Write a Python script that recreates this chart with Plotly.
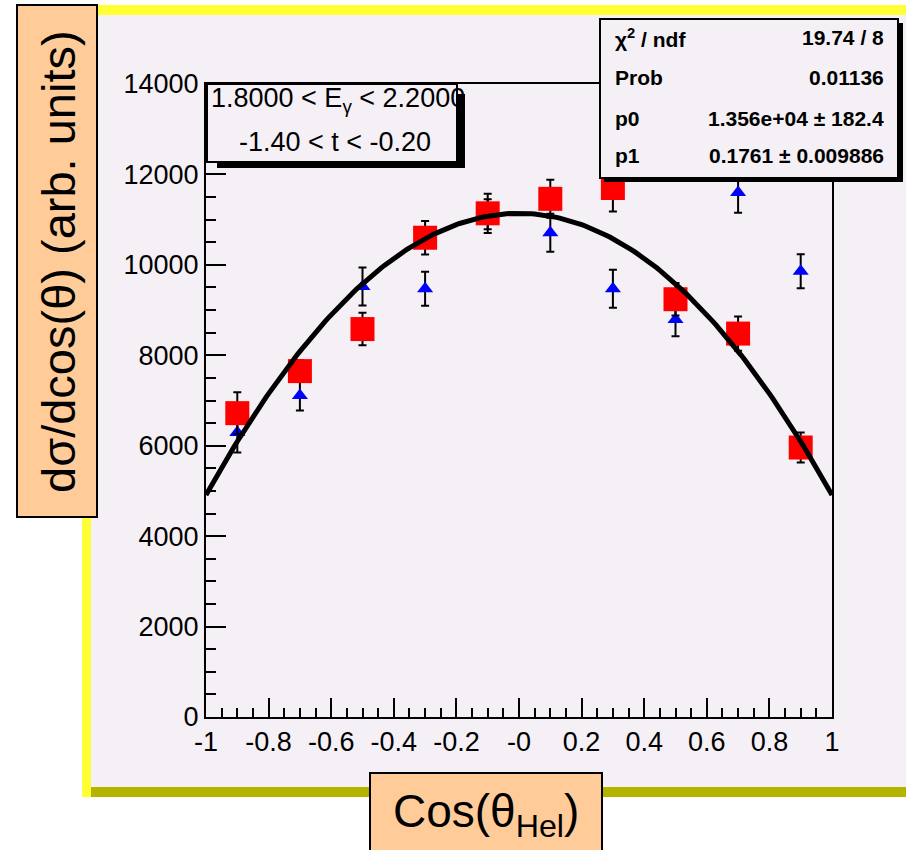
import numpy as np
import plotly.graph_objects as go

# --- data -------------------------------------------------------------
cos_bins = [-0.9, -0.7, -0.5, -0.3, -0.1, 0.1, 0.3, 0.5, 0.7, 0.9]

red_vals = [6720, 7650, 8580, 10600, 11140, 11460, 11700, 9240, 8480, 5960]
red_errs = [460, 240, 360, 370, 435, 420, 520, 360, 380, 330]

blue_vals = [6290, 7110, 9520, 9470, 11120, 10710, 9470, 8790, 11600, 9860]
blue_errs = [440, 330, 420, 375, 330, 420, 420, 370, 450, 375]

# fitted curve, polynomial coefficients (highest power first)
fit_coeffs = [-6230, 0, 11140]

x_tickvals = [-1, -0.8, -0.6, -0.4, -0.2, 0, 0.2, 0.4, 0.6, 0.8, 1]
x_ticktext = ["-1", "-0.8", "-0.6", "-0.4", "-0.2", "-0", "0.2", "0.4", "0.6", "0.8", "1"]
y_tickvals = [0, 2000, 4000, 6000, 8000, 10000, 12000, 14000]
y_ticktext = ["0", "2000", "4000", "6000", "8000", "10000", "12000", "14000"]

stats_rows = [
    ("χ<sup>2</sup> / ndf", "19.74 / 8"),
    ("Prob", "0.01136"),
    ("p0", "1.356e+04 ± 182.4"),
    ("p1", "0.1761 ± 0.009886"),
]
range_lines = ["1.8000 &lt; E<sub>γ</sub> &lt; 2.2000", "-1.40 &lt; t &lt; -0.20"]

# --- geometry (figure pixels) ------------------------------------------
W, H = 906, 850
L, R, T, B = 206, 74, 84, 133
PW, PH = W - L - R, H - T - B

PANEL = "#f4f0f5"
PEACH = "#ffcc99"
FONT = "Liberation Sans, Arial, sans-serif"


def px(xp):
    return (xp - L) / PW


def py(yp):
    return (H - B - yp) / PH


def rect(x0, y0, x1, y1, fill, line_color=None, lw=0, layer="above"):
    return dict(type="rect", xref="paper", yref="paper",
                x0=px(x0), x1=px(x1), y0=py(y1), y1=py(y0),
                fillcolor=fill, layer=layer,
                line=dict(color=line_color or fill, width=lw))


fig = go.Figure()

fig.add_trace(go.Scatter(
    x=cos_bins, y=blue_vals, mode="markers",
    marker=dict(symbol="triangle-up", size=14, color="#0000ff"),
    error_y=dict(type="data", array=blue_errs, color="black", thickness=2, width=4),
    showlegend=False, cliponaxis=False))

fig.add_trace(go.Scatter(
    x=cos_bins, y=red_vals, mode="markers",
    marker=dict(symbol="square", size=24, color="#ff0000"),
    error_y=dict(type="data", array=red_errs, color="black", thickness=2, width=4),
    showlegend=False, cliponaxis=False))

xf = np.linspace(-1, 1, 201)
fig.add_trace(go.Scatter(
    x=xf, y=np.polyval(fit_coeffs, xf), mode="lines",
    line=dict(color="black", width=5), showlegend=False))

shapes = [
    # canvas panel with bevelled border
    rect(91, 15, 906, 787, PANEL, layer="below"),
    rect(82, 5, 906, 15, "#ffff33", layer="below"),
    rect(82, 5, 91, 797, "#ffff33", layer="below"),
    rect(91, 787, 906, 797, "#b4b400", layer="below"),
    # range box with shadow
    rect(217, 94, 465, 168, "black"),
    rect(207, 84, 457, 162, PANEL, "black", 2),
    # fit statistics box with shadow
    rect(604, 23, 903, 182, "black"),
    rect(600, 19, 898, 178, PANEL, "black", 2),
    # axis title boxes
    rect(17, 5, 97, 517, PEACH, "black", 2),
    rect(370, 773, 602, 860, PEACH, "black", 2),
]

ann = []
for i, (lab, val) in enumerate(stats_rows):
    yc = [38, 77, 118, 155][i]
    ann.append(dict(x=px(613), y=py(yc), xref="paper", yref="paper", text=lab,
                    xanchor="left", yanchor="middle", showarrow=False,
                    font=dict(family=FONT, size=21, color="black", weight="bold")))
    ann.append(dict(x=px(886), y=py(yc), xref="paper", yref="paper", text=val,
                    xanchor="right", yanchor="middle", showarrow=False,
                    font=dict(family=FONT, size=21, color="black", weight="bold")))

ann.append(dict(x=px(209), y=py(100), xref="paper", yref="paper", text=range_lines[0],
                xanchor="left", yanchor="middle", showarrow=False,
                font=dict(family=FONT, size=27, color="black")))
ann.append(dict(x=px(237), y=py(142), xref="paper", yref="paper", text=range_lines[1],
                xanchor="left", yanchor="middle", showarrow=False,
                font=dict(family=FONT, size=27, color="black")))

ann.append(dict(x=px(58), y=py(262), xref="paper", yref="paper",
                text="dσ/dcos(θ) (arb. units)", textangle=-90,
                xanchor="center", yanchor="middle", showarrow=False,
                font=dict(family=FONT, size=47, color="black")))
ann.append(dict(x=px(486), y=py(815), xref="paper", yref="paper",
                text="Cos(θ<sub>Hel</sub>)",
                xanchor="center", yanchor="middle", showarrow=False,
                font=dict(family=FONT, size=46, color="black")))

fig.update_layout(
    width=W, height=H,
    margin=dict(l=L, r=R, t=T, b=B, pad=0),
    paper_bgcolor="white", plot_bgcolor=PANEL,
    shapes=shapes, annotations=ann,
    xaxis=dict(range=[-1, 1], tickvals=x_tickvals, ticktext=x_ticktext,
               ticks="inside", ticklen=19, tickwidth=2, tickcolor="black",
               minor=dict(ticks="inside", ticklen=9, tickwidth=2, tickcolor="black", dtick=0.05),
               showline=True, linecolor="black", linewidth=2, mirror=True,
               showgrid=False, zeroline=False,
               tickfont=dict(family=FONT, size=27, color="black")),
    yaxis=dict(range=[0, 14000], tickvals=y_tickvals, ticktext=y_ticktext,
               ticks="inside", ticklen=20, tickwidth=2, tickcolor="black",
               minor=dict(ticks="inside", ticklen=10, tickwidth=2, tickcolor="black", dtick=500),
               showline=True, linecolor="black", linewidth=2, mirror=True,
               showgrid=False, zeroline=False,
               tickfont=dict(family=FONT, size=27, color="black")),
)

fig.write_html("out.html")
